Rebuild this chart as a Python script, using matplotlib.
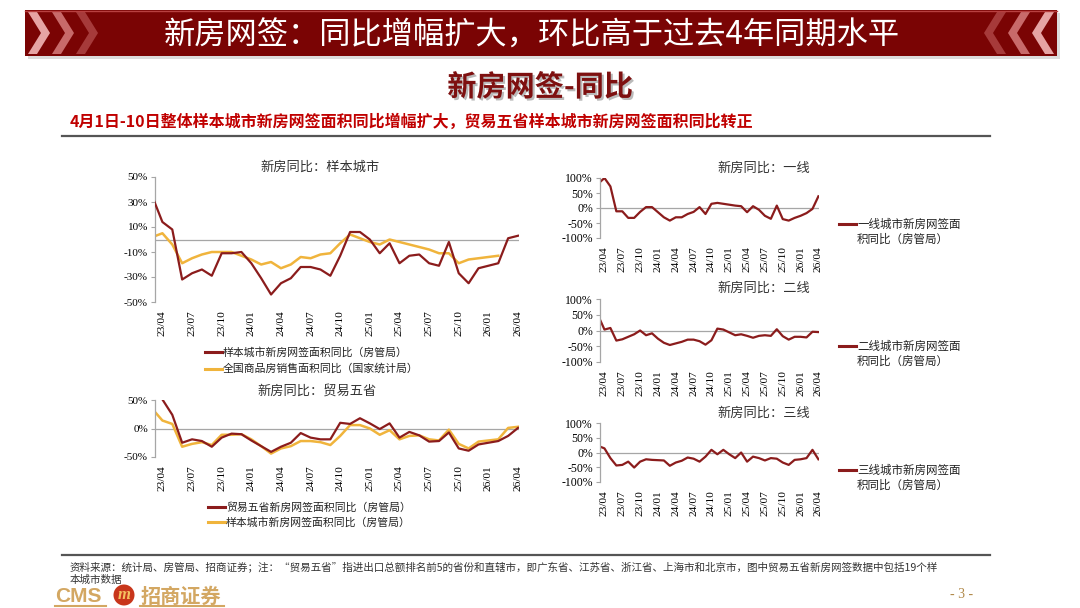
import matplotlib
matplotlib.use("Agg")
import matplotlib.pyplot as plt
import matplotlib.patheffects as pe
import numpy as np
from matplotlib.patches import Rectangle, Polygon, Circle

plt.rcParams["font.family"] = ["Liberation Serif", "Noto Sans CJK SC"]
CJK = ["Noto Sans CJK SC", "DejaVu Sans"]

W, H = 1080, 608

# monthly axis, 23/03 .. 26/04
months = ["23/03", "23/04", "23/05", "23/06", "23/07", "23/08", "23/09", "23/10",
          "23/11", "23/12", "24/01", "24/02", "24/03", "24/04", "24/05", "24/06",
          "24/07", "24/08", "24/09", "24/10", "24/11", "24/12", "25/01", "25/02",
          "25/03", "25/04", "25/05", "25/06", "25/07", "25/08", "25/09", "25/10",
          "25/11", "25/12", "26/01", "26/02", "26/03", "26/04"]
nan = np.nan

# YoY, %
sample_city = [34, 14, 8, -32, -27, -24, -29, -11, -11, -10, -19, -31, -44, -35, -31, -22,
               -22, -24, -29, -13, 6, 6, 0, -11, -3, -19, -13, -12, -19, -21, -2, -27,
               -35, -23, -21, -19, 1, 3]
national = [2, 5, -4, -19, -15, -12, -10, -10, -10, -13, -16, -20, -18, -23, -20, -14,
            -15, -12, -11, -3, 4, 1, -2, -4, 0, -2, -4, -6, -8, -11, -11, -19,
            -16, -15, -14, -13, nan, nan]
five_prov = [nan, 51, 24, -25, -19, -22, -32, -16, -9, -10, -21, -31, -41, -32, -25, -8,
             -16, -19, -19, 10, 8, 18, 9, -1, 9, -16, -6, -12, -23, -22, -7, -35,
             -39, -28, -25, -22, -13, 1]
tier1 = [82, 100, 72, -11, -11, -33, -33, -13, 3, 3, -14, -31, -42, -31, -31, -20,
         -13, 3, -20, 14, 17, 14, 11, 8, 6, -14, 6, -6, -26, -36, 8, -37,
         -42, -33, -26, -17, -3, 39]
tier2 = [45, 3, 8, -32, -28, -20, -12, 0, -15, -9, -26, -39, -46, -41, -36, -29,
         -29, -34, -45, -31, 6, 3, -6, -15, -12, -17, -23, -17, -15, -17, 4, -18,
         -29, -20, -20, -22, -4, -5]
tier3 = [22, 14, -19, -44, -42, -31, -51, -31, -23, -25, -26, -27, -45, -34, -28, -17,
         -21, -31, -14, 9, -6, 9, -6, -19, 0, -31, -14, -19, -27, -19, -21, -34,
         -42, -25, -23, -19, 9, -23]

RED = "#8B1C1C"
GOLD = "#F0B43C"
GRAY = "#A6A6A6"
x = np.arange(len(months))

fig = plt.figure(figsize=(W / 100, H / 100), dpi=100)

# background layer in pixel coordinates
bg = fig.add_axes([0, 0, 1, 1])
bg.set_xlim(0, W)
bg.set_ylim(H, 0)
bg.axis("off")

# banner
bg.add_patch(Rectangle((28, 13), 1032, 46, color="#BBBBBB", alpha=0.5, lw=0))
bg.add_patch(Rectangle((25, 10), 1032, 46, color="#7A0404", lw=0))
bg.plot([25, 1057], [10.5, 10.5], color="#B84040", lw=1)
for i, c in enumerate(["#E6A4A4", "#C86A6A", "#A63A3A"]):
    x0 = 28 + i * 24
    bg.add_patch(Polygon([(x0, 12), (x0 + 9, 12), (x0 + 22, 33), (x0 + 9, 54),
                          (x0, 54), (x0 + 13, 33)], closed=True, color=c, lw=0))
    x1 = 1054 - i * 24
    bg.add_patch(Polygon([(x1, 12), (x1 - 9, 12), (x1 - 22, 33), (x1 - 9, 54),
                          (x1, 54), (x1 - 13, 33)], closed=True, color=c, lw=0))
bg.text(532, 36, "新房网签：同比增幅扩大，环比高于过去4年同期水平", family=CJK,
        fontsize=22.5, color="white", ha="center", va="center")

bg.text(540, 87, "新房网签-同比", family=CJK, fontsize=21, color="#7E1010",
        ha="center", va="center", weight="bold",
        path_effects=[pe.SimplePatchShadow(offset=(1.5, -1.5), shadow_rgbFace="#777777", alpha=0.5),
                      pe.Normal()])
bg.text(70, 122, "4月1日-10日整体样本城市新房网签面积同比增幅扩大，贸易五省样本城市新房网签面积同比转正",
        family=CJK, fontsize=11.5, color="#C00000", ha="left", va="center", weight="bold")
bg.plot([62, 990], [136, 136], color="#555555", lw=1.6)
bg.plot([62, 990], [555, 555], color="#555555", lw=1.6)

# footer
bg.text(70, 568, "资料来源：统计局、房管局、招商证券；注：“贸易五省”指进出口总额排名前5的省份和直辖市，"
        "即广东省、江苏省、浙江省、上海市和北京市，图中贸易五省新房网签数据中包括19个样",
        family=CJK, fontsize=7.6, color="#333333", ha="left", va="center")
bg.text(70, 580, "本城市数据", family=CJK, fontsize=7.6, color="#333333", ha="left", va="center")
bg.text(55, 596, "CMS", family=["Liberation Sans"], fontsize=15, color="#D3A762",
        ha="left", va="center", weight="bold")
bg.add_patch(Circle((124, 595), 10.5, color="#C8361B", lw=0))
bg.text(124, 595, "m", family=["Liberation Serif"], fontsize=12, color="#F5C060",
        ha="center", va="center", style="italic", weight="bold")
bg.text(141, 596, "招商证券", family=CJK, fontsize=14.5, color="#D3A762",
        ha="left", va="center", weight="bold")
bg.plot([55, 106], [606, 606], color="#D3A762", lw=1.5)
bg.plot([140, 224], [606, 606], color="#D3A762", lw=1.5)
bg.text(962, 595, "- 3 -", family=["Liberation Serif"], fontsize=10, color="#B08848",
        ha="center", va="center")


def px_axes(left, top, right, bottom):
    return fig.add_axes([left / W, 1 - bottom / H, (right - left) / W, (bottom - top) / H])


def style(ax, yticks, tick_size):
    ax.patch.set_alpha(0)
    ax.set_xlim(0.25, 37.1)
    ax.set_ylim(yticks[-1], yticks[0])
    for s in ["top", "right", "bottom"]:
        ax.spines[s].set_visible(False)
    ax.spines["left"].set_color(GRAY)
    ax.spines["left"].set_linewidth(0.9)
    ax.axhline(0, color=GRAY, lw=0.9, zorder=1)
    ax.set_yticks(yticks)
    ax.set_yticklabels([f"{v}%" for v in yticks])
    ax.tick_params(axis="y", length=3, width=0.8, color=GRAY, labelsize=tick_size, pad=2)
    ax.set_xticks(x[1::3])
    ax.set_xticklabels(months[1::3], rotation=90)
    ax.tick_params(axis="x", length=0, labelsize=8.2, pad=6)


def legend_entry(line, x0, y, text, size):
    bg.plot([x0, x0 + 17], [y, y], color=line.get_color(), lw=2.2)
    bg.text(x0 + 18, y, text, family=CJK, fontsize=size, color="#222222", ha="left", va="center")


# top left: sample cities
ax1 = px_axes(155, 177, 519, 302)
style(ax1, [50, 30, 10, -10, -30, -50], 8)
l_city, = ax1.plot(x, sample_city, color=RED, lw=1.6, zorder=3)
l_nat, = ax1.plot(x, national, color=GOLD, lw=1.8, zorder=2)
bg.text(320, 167, "新房同比：样本城市", family=CJK, fontsize=9.5, color="#333333",
        ha="center", va="center")
legend_entry(l_city, 205, 352, "样本城市新房网签面积同比（房管局）", 7.8)
legend_entry(l_nat, 205, 369, "全国商品房销售面积同比（国家统计局）", 7.8)

# bottom left: five trade provinces
ax2 = px_axes(155, 400, 519, 457)
style(ax2, [50, 0, -50], 8)
l_five, = ax2.plot(x, five_prov, color=RED, lw=1.6, zorder=3)
l_city2, = ax2.plot(x, sample_city, color=GOLD, lw=1.8, zorder=2)
bg.text(317, 391, "新房同比：贸易五省", family=CJK, fontsize=9.5, color="#333333",
        ha="center", va="center")
legend_entry(l_five, 208, 507, "贸易五省新房网签面积同比（房管局）", 7.8)
legend_entry(l_city2, 208, 522, "样本城市新房网签面积同比（房管局）", 7.8)

# right: tiers
tiers = [
    (tier1, "一线", 178, 238, 168, 224),
    (tier2, "二线", 299, 362, 288, 346),
    (tier3, "三线", 423, 482, 413, 470),
]
for values, name, top, bottom, title_y, leg_y in tiers:
    ax = px_axes(600, top, 819, bottom)
    style(ax, [100, 50, 0, -50, -100], 8.5)
    ln, = ax.plot(x, values, color=RED, lw=1.6)
    bg.text(764, title_y, f"新房同比：{name}", family=CJK, fontsize=9.5, color="#333333",
            ha="center", va="center")
    legend_entry(ln, 839, leg_y, f"{name}城市新房网签面", 8.3)
    bg.text(857, leg_y + 15, "积同比（房管局）", family=CJK, fontsize=8.3, color="#222222",
            ha="left", va="center")

fig.savefig("out.png", dpi=100)
